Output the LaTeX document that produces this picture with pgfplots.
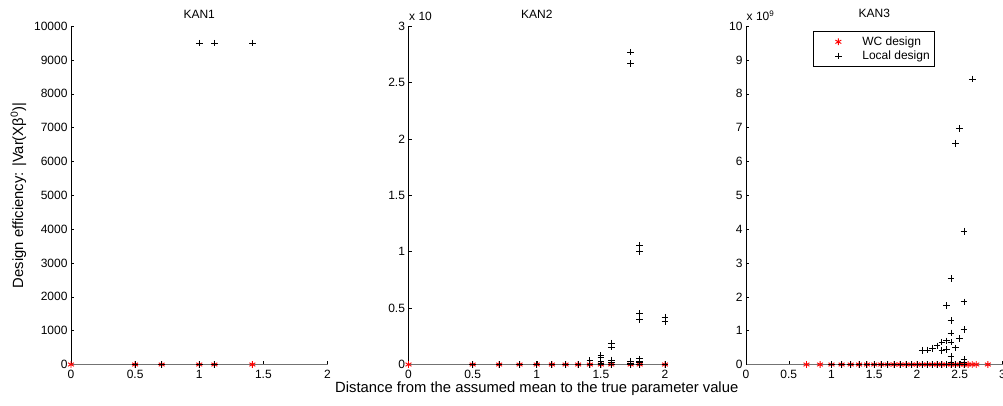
\documentclass[border=0pt]{standalone}
\usepackage{fontspec}
\setmainfont{Liberation Sans}
\usepackage{pgfplots}
\pgfplotsset{compat=1.18}

\pgfplotsset{
  kan/.style={
    scale only axis, width=256.5pt, height=338.3pt, anchor=south west,
    axis lines=left, axis line style={-, line width=0.5pt},
    x axis line style={draw=black!55, line width=0.9pt},
    tick align=inside, major tick length=3.4pt,
    tick style={black, line width=0.5pt},
    clip=false, scaled ticks=false,
    /pgf/number format/assume math mode=true,
    /pgf/number format/1000 sep={},
    tick label style={font=\fontsize{12}{12}\selectfont},
    xticklabel style={yshift=-2pt},
    title style={font=\fontsize{12}{12}\selectfont, yshift=-1.4pt},
  },
  wc/.style={only marks, mark=asterisk, mark size=3.4pt, red, line width=0.9pt},
  loc/.style={only marks, mark=+, mark size=3.3pt, black, line width=0.9pt},
}

\begin{document}
\begin{tikzpicture}
\path[use as bounding box] (0pt,0pt) rectangle (1003pt,405pt);

% KAN1
\begin{axis}[kan, at={(71pt,40.5pt)},
  xmin=0, xmax=2, ymin=0, ymax=10000,
  xtick={0,0.5,1,1.5,2}, ytick={0,1000,...,10000},
  title={KAN1},
  ylabel={Design efficiency: |Var(Xβ\textsuperscript{0})|},
  ylabel style={at={(rel axis cs:-0.2046,0.5)}, anchor=center,
    font=\fontsize{14.8}{15}\selectfont},
]
\addplot[wc] table {
x y
0 0
0.5 0
0.7071 0
1 0
1.1180 0
1.4142 0
};
\addplot[loc] table {
x y
0.5 0
0.7071 0
1 0
1.1180 0
1 9500
1.1180 9500
1.4142 9500
};
\end{axis}

% KAN2
\begin{axis}[kan, at={(408.5pt,40.5pt)},
  xmin=0, xmax=2, ymin=0, ymax=3,
  xtick={0,0.5,1,1.5,2}, ytick={0,0.5,...,3},
  title={KAN2},
  xlabel={Distance from the assumed mean to the true parameter value},
  xlabel style={at={(rel axis cs:0.5,0)}, anchor=north, yshift=-14pt,
    font=\fontsize{14.8}{15}\selectfont},
]
\addplot[wc] table {
x y
0 0
0.5 0
0.7071 0
0.8660 0
1 0
1.1180 0
1.2247 0
1.3229 0
1.4142 0
1.5 0
1.5811 0
1.7321 0
1.8028 0
2 0
};
\addplot[loc] table {
x y
0.5 0
0.7071 0
0.8660 0
1 0
1.1180 0
1.2247 0
1.3229 0
1.4142 0
1.4142 0.035
1.5 0
1.5 0.012
1.5 0.025
1.5 0.06
1.5 0.08
1.5811 0
1.5811 0.015
1.5811 0.04
1.5811 0.155
1.5811 0.19
1.7321 0
1.7321 0.012
1.7321 0.03
1.7321 2.67
1.7321 2.77
1.8028 0
1.8028 0.015
1.8028 0.03
1.8028 0.05
1.8028 0.40
1.8028 0.45
1.8028 1.0
1.8028 1.055
2 0
2 0.38
2 0.42
};
\node[anchor=base west, inner sep=0pt, yshift=5.5pt, xshift=0.5pt,
  font=\fontsize{12}{12}\selectfont] at (rel axis cs:0,1) {x 10};
\end{axis}

% KAN3
\begin{axis}[kan, at={(746pt,40.5pt)},
  xmin=0, xmax=3, ymin=0, ymax=10,
  xtick={0,0.5,...,3}, ytick={0,1,...,10},
  title={KAN3},
  legend style={at={(0.2615,0.9845)}, anchor=north west, draw=black,
    line width=0.5pt, font=\fontsize{12}{12}\selectfont,
    inner xsep=3pt, inner ysep=3pt, row sep=0pt,
    /tikz/every odd column/.append style={column sep=16pt}},
  legend cell align=left,
  legend image code/.code={\path[draw=none, fill=none] (0pt,-3pt) rectangle (28pt,3pt);
    \draw[#1] plot[only marks] coordinates {(22pt,0pt)};},
]
\addplot[wc] table {
x y
0.7071 0
0.8660 0
1 0
1.1180 0
1.2247 0
1.3229 0
1.4142 0
1.5 0
1.5811 0
1.6583 0
1.7321 0
1.8028 0
1.8708 0
1.9365 0
2 0
2.0616 0
2.1213 0
2.1794 0
2.2361 0
2.2913 0
2.3452 0
2.3979 0
2.4495 0
2.5 0
2.5495 0
2.5981 0
2.6458 0
2.6926 0
2.8284 0
};
\addlegendentry{WC design}
\addplot[loc] table {
x y
1 0
1.1180 0
1.2247 0
1.3229 0
1.4142 0
1.5 0
1.5811 0
1.6583 0
1.7321 0
1.8028 0
1.8708 0
1.9365 0
2 0
2.0616 0
2.1213 0
2.1794 0
2.2361 0
2.2913 0
2.3452 0
2.3979 0
2.4495 0
2.5 0
2.5495 0
2.6458 8.44
2.5 6.97
2.4495 6.54
2.5495 3.94
2.3979 2.54
2.3452 1.75
2.5495 1.85
2.3979 1.30
2.5495 1.04
2.3979 0.93
2.5 0.76
2.0616 0.42
2.1213 0.43
2.1794 0.48
2.2361 0.55
2.2913 0.66
2.3452 0.70
2.3979 0.66
2.4495 0.49
2.3452 0.44
2.2913 0.42
2.3979 0.24
2.5495 0.14
2.5495 0.05
2.3979 0.05
};
\addlegendentry{Local design}
\node[anchor=base west, inner sep=0pt, yshift=5.5pt, xshift=0.5pt,
  font=\fontsize{12}{12}\selectfont] at (rel axis cs:0,1) {x 10\textsuperscript{9}};
\end{axis}
\end{tikzpicture}
\end{document}
